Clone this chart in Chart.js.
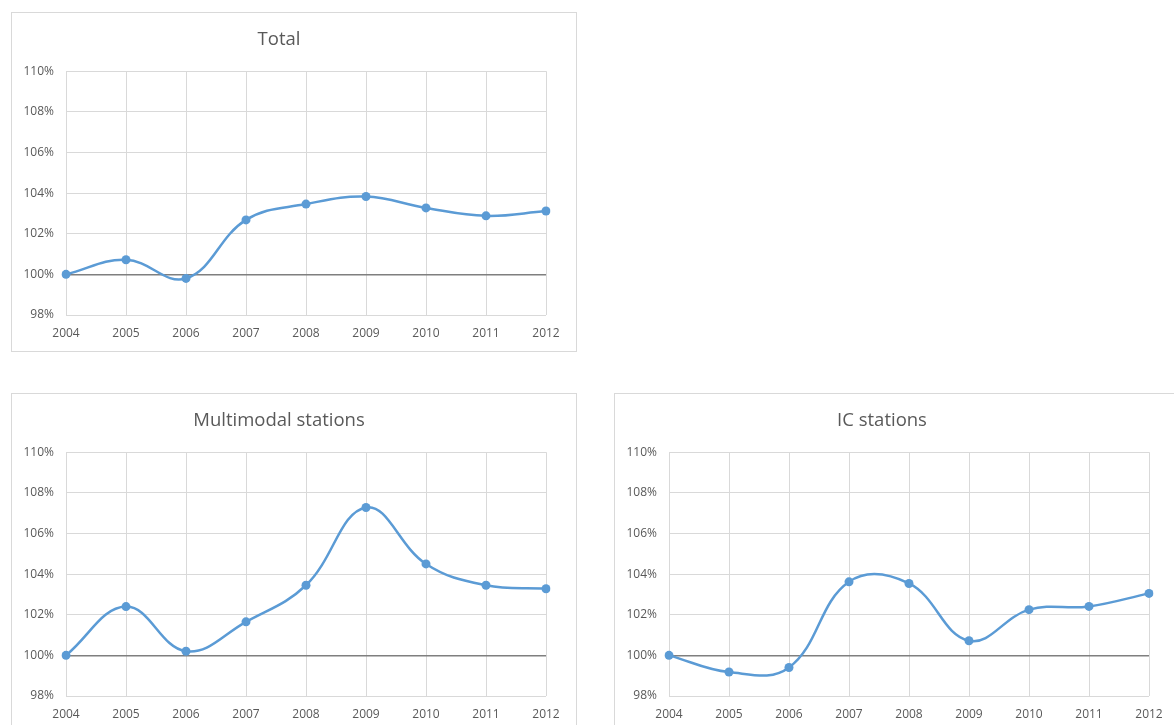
<!DOCTYPE html>
<html>
<head>
<meta charset="utf-8">
<script src="https://cdn.jsdelivr.net/npm/chart.js@4/dist/chart.umd.min.js"></script>
<style>
  html, body { margin: 0; padding: 0; background: #ffffff; width: 1174px; height: 725px; overflow: hidden; }
  .box { position: absolute; width: 566px; height: 340px; border: 1px solid #d9d9d9; box-sizing: border-box; background: #ffffff; }
  .box canvas { display: block; }
</style>
</head>
<body>
<div class="box" style="left:11px; top:12px;"><canvas id="cTotal" width="564" height="338"></canvas></div>
<div class="box" style="left:11px; top:393px;"><canvas id="cMulti" width="564" height="338"></canvas></div>
<div class="box" style="left:614px; top:393px;"><canvas id="cIC" width="564" height="338"></canvas></div>
<script>
// Years on the category axis
const years = ['2004', '2005', '2006', '2007', '2008', '2009', '2010', '2011', '2012'];

// Index values, 2004 = 100%
const totalValues = [100.0, 100.72, 99.8, 102.68, 103.46, 103.83, 103.27, 102.88, 103.12];
const multimodalValues = [100.0, 102.4, 100.2, 101.65, 103.45, 107.28, 104.5, 103.45, 103.28];
const icValues = [100.0, 99.18, 99.4, 103.62, 103.54, 100.72, 102.25, 102.41, 103.05];

// Value axis range and step (percent)
const yMin = 98;
const yMax = 110;
const yStep = 2;

const titles = ['Total', 'Multimodal stations', 'IC stations'];

const FONT = '"Open Sans", "DejaVu Sans", sans-serif';
const TEXT = '#595959';
const GRID = '#d9d9d9';
const BASE = '#7f7f7f';
const BLUE = '#5b9bd5';

function makeChart(canvasId, title, values) {
  return new Chart(document.getElementById(canvasId), {
    type: 'line',
    data: {
      labels: years,
      datasets: [{
        data: values,
        borderColor: BLUE,
        backgroundColor: BLUE,
        borderWidth: 2.5,
        pointRadius: 4.5,
        pointBorderWidth: 0,
        pointBackgroundColor: BLUE,
        tension: 0.4,
        fill: false
      }]
    },
    options: {
      responsive: false,
      animation: false,
      devicePixelRatio: 1,
      layout: { padding: { left: 0, top: 0, right: 30, bottom: 0 } },
      plugins: {
        legend: { display: false },
        tooltip: { enabled: false },
        title: {
          display: true,
          text: title,
          color: TEXT,
          font: { family: FONT, size: 18.5, weight: 'normal', lineHeight: 1.2 },
          padding: { top: 16, bottom: 20 }
        }
      },
      scales: {
        x: {
          type: 'category',
          offset: false,
          border: { display: false },
          grid: { color: GRID, lineWidth: 1, drawTicks: false, offset: false },
          ticks: { color: TEXT, font: { family: FONT, size: 12 }, padding: 11, maxRotation: 0, autoSkip: false },
          afterFit: s => { s.height = 36; }
        },
        y: {
          min: yMin,
          max: yMax,
          border: { display: false },
          grid: {
            drawTicks: false,
            color: c => (c.tick && c.tick.value === 100) ? BASE : GRID,
            lineWidth: c => (c.tick && c.tick.value === 100) ? 1.5 : 1
          },
          ticks: {
            stepSize: yStep,
            color: TEXT,
            font: { family: FONT, size: 12 },
            padding: 12,
            callback: v => v + '%'
          },
          afterFit: s => { s.width = 54; }
        }
      }
    }
  });
}

makeChart('cTotal', titles[0], totalValues);
makeChart('cMulti', titles[1], multimodalValues);
makeChart('cIC', titles[2], icValues);
</script>
</body>
</html>
